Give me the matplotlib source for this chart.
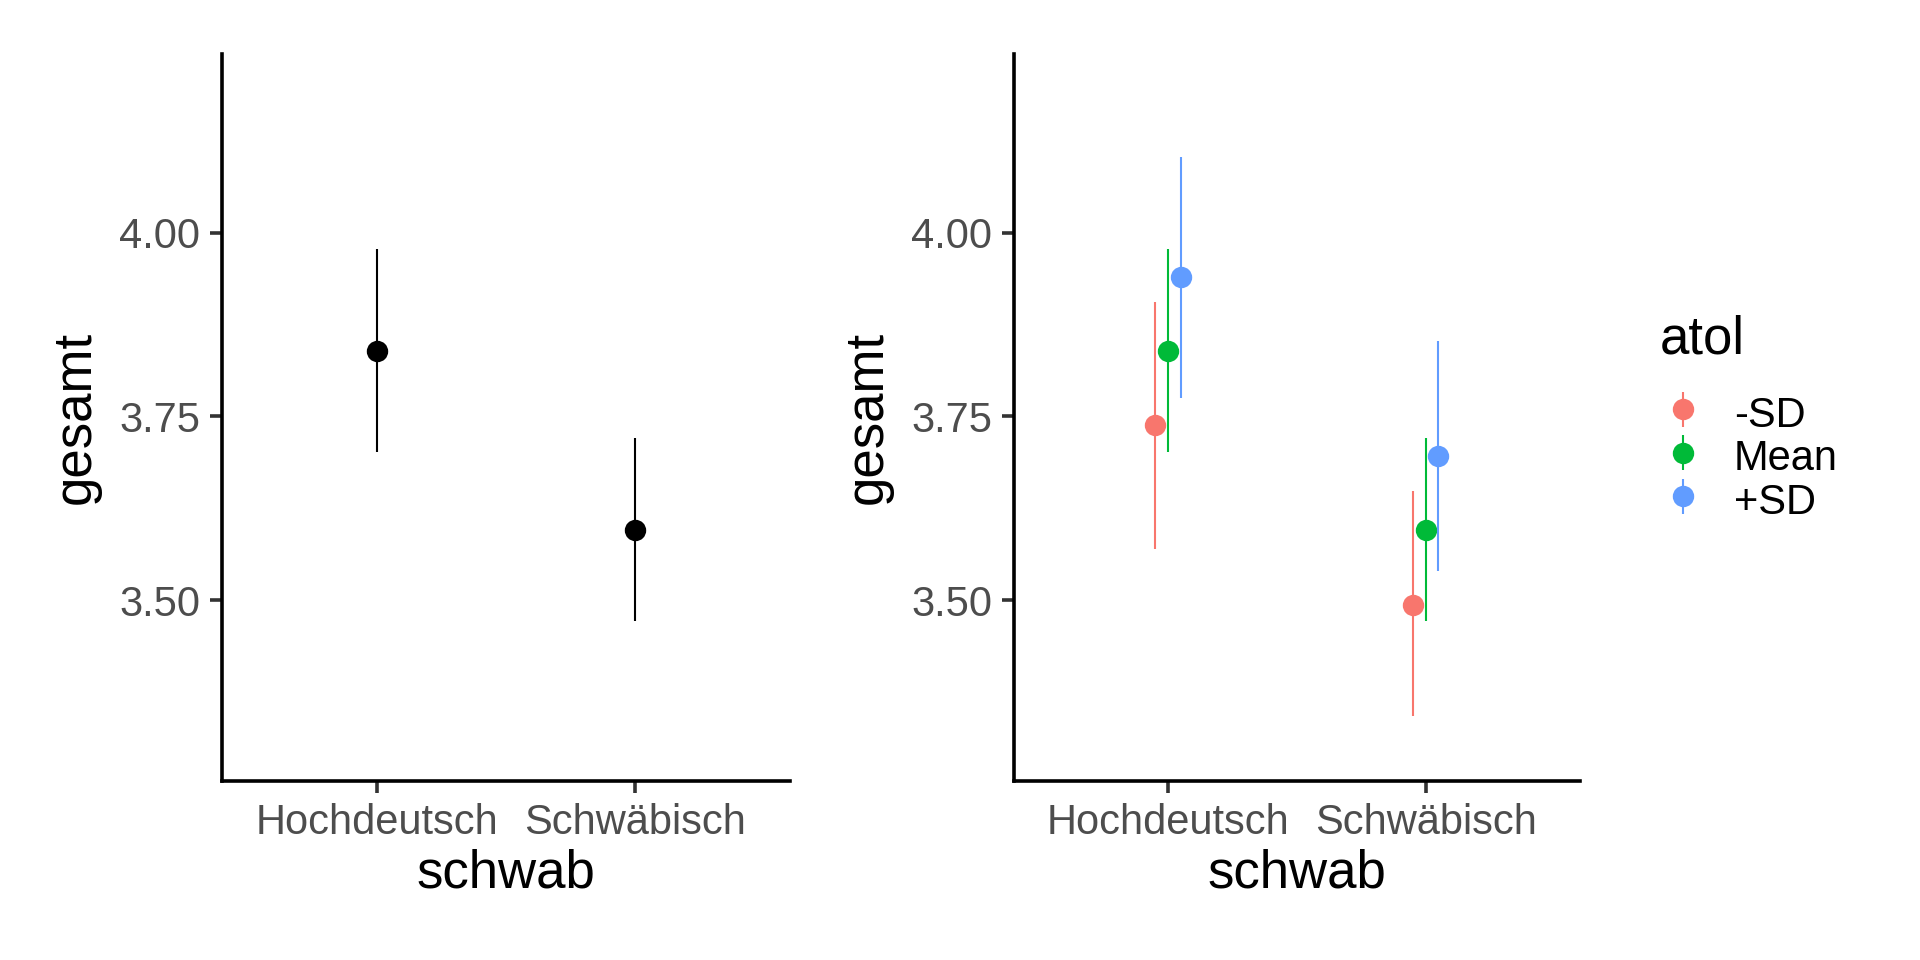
import matplotlib
matplotlib.use("Agg")
import matplotlib.pyplot as plt
from matplotlib.legend_handler import HandlerErrorbar
import numpy as np

plt.rcParams['font.family'] = ['Liberation Sans', 'DejaVu Sans']

categories = ["Hochdeutsch", "Schwäbisch"]

# Left panel: main effect of schwab
left_est = [3.839, 3.596]
left_lo = [3.702, 3.471]
left_hi = [3.977, 3.720]

# Right panel: schwab x atol
groups = ["-SD", "Mean", "+SD"]
colors = ["#F8766D", "#00BA38", "#619CFF"]
right_est = {"-SD": [3.738, 3.494], "Mean": [3.839, 3.596], "+SD": [3.939, 3.696]}
right_lo = {"-SD": [3.570, 3.342], "Mean": [3.702, 3.471], "+SD": [3.775, 3.539]}
right_hi = {"-SD": [3.906, 3.649], "Mean": [3.977, 3.720], "+SD": [4.103, 3.853]}

yticks = [3.50, 3.75, 4.00]
ylim = (3.254, 4.243)
dodge = 0.05

fig = plt.figure(figsize=(9.6, 4.8), dpi=200)
ax1 = fig.add_axes([0.1156, 0.1865, 0.2959, 0.7573])
ax2 = fig.add_axes([0.5281, 0.1865, 0.2948, 0.7573])

tick_fs = 15
title_fs = 19
lw_err = 0.75
ms = 6.7


def style(ax):
    ax.set_xlim(0.4, 2.6)
    ax.set_ylim(*ylim)
    ax.set_yticks(yticks)
    ax.set_yticklabels([f"{v:.2f}" for v in yticks])
    ax.set_xticks([1, 2])
    ax.set_xticklabels(categories)
    for s in ["top", "right"]:
        ax.spines[s].set_visible(False)
    for s in ["left", "bottom"]:
        ax.spines[s].set_linewidth(1.3)
        ax.spines[s].set_color("black")
    ax.tick_params(axis="both", length=4.3, width=1.3, color="#333333",
                   labelsize=tick_fs, labelcolor="#4D4D4D", pad=3.5)
    ax.set_xlabel("schwab", fontsize=title_fs, labelpad=2)
    ax.set_ylabel("gesamt", fontsize=title_fs, labelpad=6.5)


xs = np.arange(1, len(categories) + 1)

# Left panel
for i, x in enumerate(xs):
    ax1.plot([x, x], [left_lo[i], left_hi[i]], color="black", lw=lw_err,
             solid_capstyle="butt")
ax1.plot(xs, left_est, "o", color="black", ms=ms, ls="none")
style(ax1)

# Right panel
handles = []
for g, (grp, col) in enumerate(zip(groups, colors)):
    off = (g - 1) * dodge
    for i, x in enumerate(xs):
        ax2.plot([x + off, x + off], [right_lo[grp][i], right_hi[grp][i]],
                 color=col, lw=lw_err, solid_capstyle="butt")
    ax2.plot(xs + off, right_est[grp], "o", color=col, ms=ms, ls="none")
    h = ax2.errorbar([np.nan], [np.nan], yerr=[[0.1], [0.1]], fmt="o",
                     color=col, ms=ms, elinewidth=lw_err, capsize=0,
                     label=grp)
    handles.append(h)
style(ax2)

leg = fig.legend(handles=handles, labels=groups, title="atol",
                 loc="center left", bbox_to_anchor=(0.8646, 0.564),
                 frameon=False, fontsize=tick_fs, title_fontsize=title_fs,
                 handlelength=1.1, handleheight=1.13, handletextpad=0.67,
                 labelspacing=0.0, borderaxespad=0, borderpad=0,
                 alignment="left",
                 handler_map={type(handles[0]): HandlerErrorbar(yerr_size=0.42)})
leg._legend_box.sep = 10

fig.savefig("out.png", dpi=200, facecolor="white")
